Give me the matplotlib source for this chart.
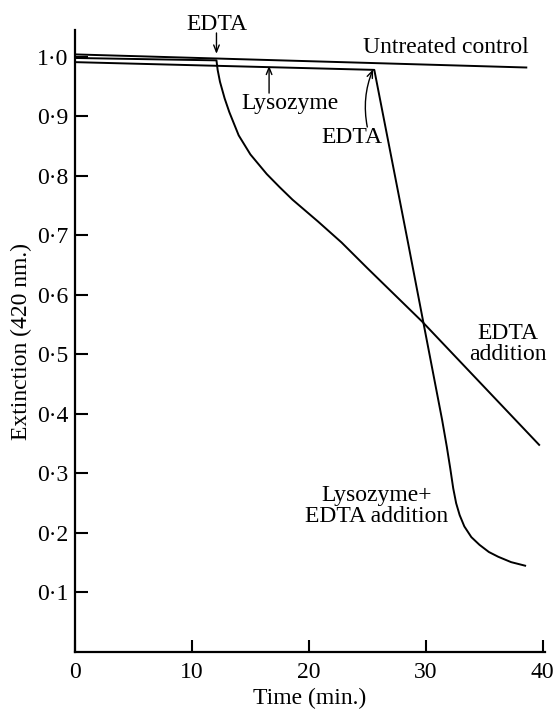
import matplotlib
matplotlib.use('Agg')
import matplotlib.pyplot as plt

plt.rcParams['font.family'] = 'serif'
plt.rcParams['font.serif'] = ['Liberation Serif', 'Times New Roman', 'DejaVu Serif']

# values (time in min., extinction at 420 nm)
control_t = [0.0, 38.6]
control_e = [1.004, 0.982]

edta_t = [0.0, 12.1, 12.2, 12.4, 12.8, 13.2, 14.0, 15.0, 16.4, 17.5, 18.6, 20.8, 22.8, 25.0, 29.7, 39.7]
edta_e = [0.998, 0.994, 0.978, 0.958, 0.930, 0.907, 0.868, 0.836, 0.803, 0.781, 0.760, 0.723, 0.688, 0.645, 0.555, 0.348]

lyso_t = [0.0, 25.6, 28.5, 31.4, 31.8, 32.1, 32.35, 32.6, 32.9, 33.3, 33.9, 34.6, 35.4, 36.2, 37.3, 38.5]
lyso_e = [0.991, 0.978, 0.686, 0.390, 0.345, 0.308, 0.275, 0.250, 0.230, 0.211, 0.193, 0.180, 0.168, 0.160, 0.151, 0.145]

yticks = [0.1, 0.2, 0.3, 0.4, 0.5, 0.6, 0.7, 0.8, 0.9, 1.0]
ytick_labels = ['0·1', '0·2', '0·3', '0·4', '0·5', '0·6', '0·7', '0·8', '0·9', '1·0']
xticks = [0, 10, 20, 30, 40]

fig = plt.figure(figsize=(5.54, 7.10), dpi=100)
ax = fig.add_axes([75/554, 58/710, 470/554, 622/710])

lw = 1.4
ax.plot(control_t, control_e, color='black', lw=lw)
ax.plot(edta_t, edta_e, color='black', lw=lw, solid_joinstyle='round')
ax.plot(lyso_t, lyso_e, color='black', lw=lw, solid_joinstyle='round')

ax.set_xlim(0, 40.2)
ax.set_ylim(0, 1.045)
ax.set_xticks(xticks)
ax.set_yticks(yticks)
ax.set_yticklabels(ytick_labels)

for s in ['top', 'right']:
    ax.spines[s].set_visible(False)
for s in ['left', 'bottom']:
    ax.spines[s].set_linewidth(1.6)

fs = 17
ax.tick_params(direction='in', length=9, width=1.5, labelsize=fs)
ax.tick_params(axis='y', pad=5)
ax.tick_params(axis='x', pad=7)

ax.set_xlabel('Time (min.)', fontsize=fs, labelpad=4)
ax.set_ylabel('Extinction (420 nm.)', fontsize=fs, labelpad=3)

arrow = dict(arrowstyle='->, head_length=0.5, head_width=0.2', lw=1.0, color='black',
             shrinkA=0, shrinkB=0)

# EDTA added at 12 min
ax.annotate('', xy=(12.1, 1.005), xytext=(12.1, 1.04), arrowprops=arrow, annotation_clip=False)
ax.text(12.1, 1.054, 'EDTA', ha='center', va='center', fontsize=fs, clip_on=False)

# lysozyme
ax.annotate('', xy=(16.6, 0.985), xytext=(16.6, 0.939), arrowprops=arrow)
ax.text(18.4, 0.921, 'Lysozyme', ha='center', va='center', fontsize=fs)

# EDTA after lysozyme
ax.annotate('', xy=(25.5, 0.979), xytext=(25.0, 0.882),
            arrowprops=dict(arrow, connectionstyle='arc3,rad=-0.15'))
ax.text(23.7, 0.864, 'EDTA', ha='center', va='center', fontsize=fs)

ax.text(31.7, 1.015, 'Untreated control', ha='center', va='center', fontsize=fs)
ax.text(37.0, 0.518, 'EDTA\naddition', ha='center', va='center', fontsize=fs,
        linespacing=1.0)
ax.text(25.8, 0.245, 'Lysozyme+\nEDTA addition', ha='center', va='center', fontsize=fs,
        linespacing=1.0)

fig.savefig('out.png', dpi=100)
